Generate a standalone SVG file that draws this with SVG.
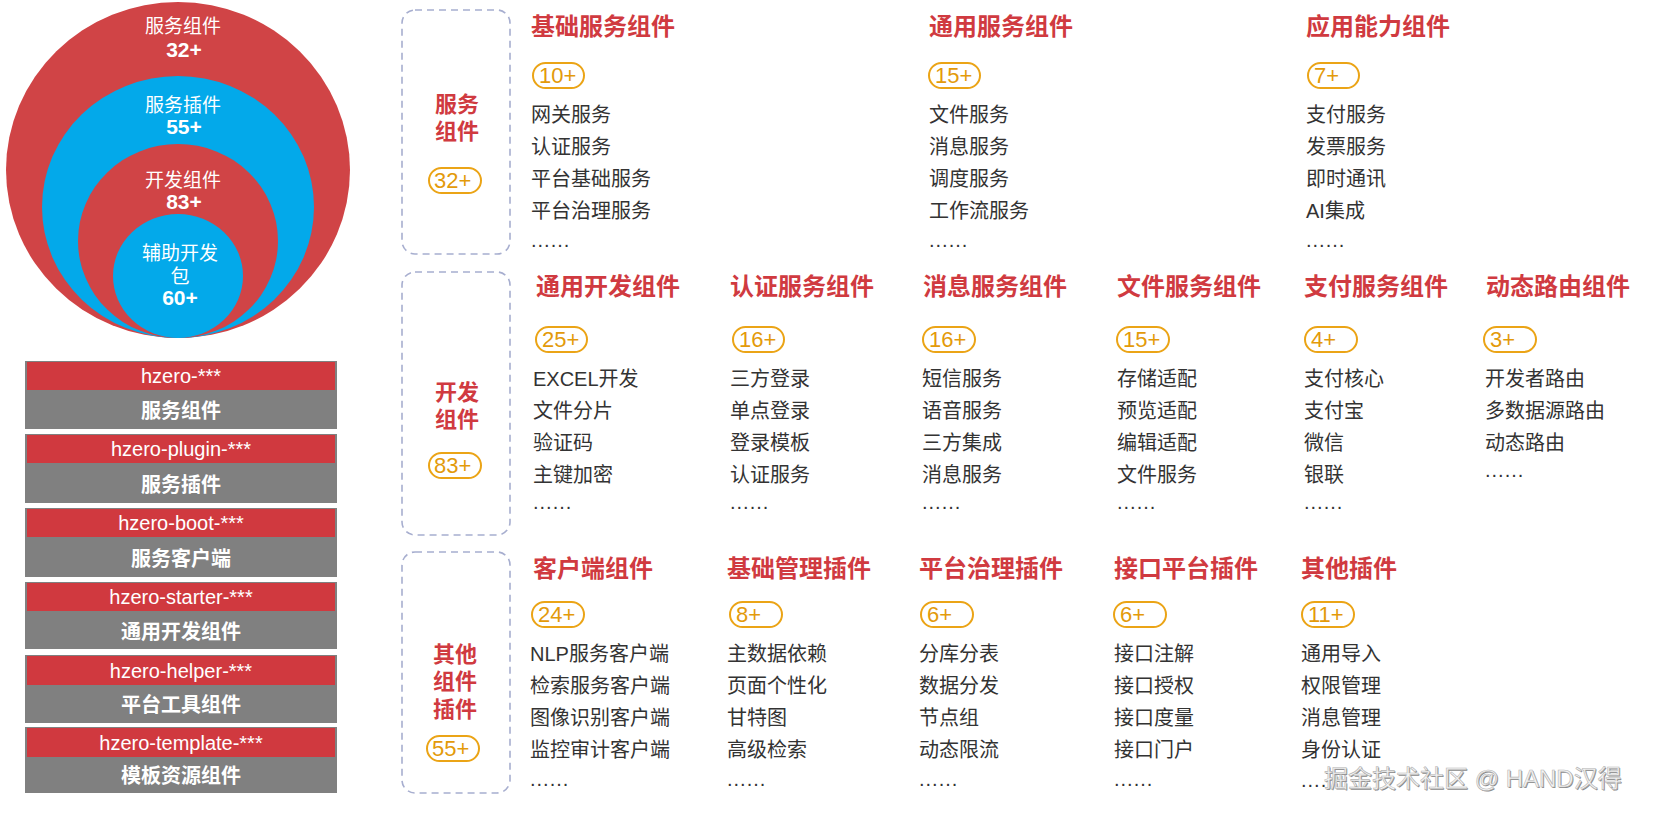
<svg xmlns="http://www.w3.org/2000/svg" width="1654" height="814" viewBox="0 0 1654 814">
<style>
text{font-family:"Liberation Sans","Noto Sans CJK SC",sans-serif}
.t{font-size:24px;font-weight:bold;fill:#D03A40}
.i{font-size:20px;fill:#333}
.d{font-size:20px;fill:#333;letter-spacing:1px}
.b rect{fill:none;stroke:#EBA416;stroke-width:2}
.b text{font-size:22px;fill:#E39A0A}
.f{fill:none;stroke:#A7AECF;stroke-width:1.6;stroke-dasharray:7 5}
.s{font-size:22px;font-weight:bold;fill:#D03A40;text-anchor:middle}
.cw{fill:#fff;text-anchor:middle;font-size:19px}
.cn{fill:#fff;text-anchor:middle;font-size:21px;font-weight:bold}
.bx{fill:#808080}
.br{fill:#D0393F}
.bt{fill:#fff;font-size:20px;text-anchor:middle}
.bg{fill:#fff;font-size:20px;font-weight:bold;text-anchor:middle}
.wm{font-size:24px}
</style>
<rect width="1654" height="814" fill="#fff"/>
<g id="circles">
<ellipse cx="178" cy="170" rx="172" ry="168" fill="#D04446"/>
<ellipse cx="178" cy="207" rx="136" ry="131" fill="#03A9EA"/>
<ellipse cx="178" cy="241" rx="100" ry="97" fill="#D04446"/>
<ellipse cx="178" cy="276" rx="65" ry="62" fill="#03A9EA"/>
<text class="cw" x="183" y="33">服务组件</text>
<text class="cn" x="184" y="57">32+</text>
<text class="cw" x="183" y="112">服务插件</text>
<text class="cn" x="184" y="134">55+</text>
<text class="cw" x="183" y="187">开发组件</text>
<text class="cn" x="184" y="209">83+</text>
<text class="cw" x="180" y="260">辅助开发</text>
<text class="cw" x="180" y="283">包</text>
<text class="cn" x="180" y="305">60+</text>
</g>
<g id="pkg-boxes">
<g id="box-hzero"><rect class="bx" x="25" y="361" width="312" height="68"/><rect class="br" x="27" y="362" width="308" height="28"/><text class="bt" x="181" y="383">hzero-***</text><text class="bg" x="181" y="418">服务组件</text></g>
<g id="box-plugin"><rect class="bx" x="25" y="434" width="312" height="69"/><rect class="br" x="27" y="435" width="308" height="28"/><text class="bt" x="181" y="456">hzero-plugin-***</text><text class="bg" x="181" y="492">服务插件</text></g>
<g id="box-boot"><rect class="bx" x="25" y="508" width="312" height="69"/><rect class="br" x="27" y="509" width="308" height="28"/><text class="bt" x="181" y="530">hzero-boot-***</text><text class="bg" x="181" y="566">服务客户端</text></g>
<g id="box-starter"><rect class="bx" x="25" y="582" width="312" height="67"/><rect class="br" x="27" y="583" width="308" height="28"/><text class="bt" x="181" y="604">hzero-starter-***</text><text class="bg" x="181" y="639">通用开发组件</text></g>
<g id="box-helper"><rect class="bx" x="25" y="655" width="312" height="68"/><rect class="br" x="27" y="656" width="308" height="29"/><text class="bt" x="181" y="678">hzero-helper-***</text><text class="bg" x="181" y="712">平台工具组件</text></g>
<g id="box-template"><rect class="bx" x="25" y="727" width="312" height="66"/><rect class="br" x="27" y="728" width="308" height="29"/><text class="bt" x="181" y="750">hzero-template-***</text><text class="bg" x="181" y="783">模板资源组件</text></g>
</g>
<g id="connectors"/>
<g id="group-service">
<rect class="f" x="402" y="10" width="108" height="244" rx="13"/>
<text class="s" x="457" y="112">服务</text><text class="s" x="457" y="139">组件</text>
<g class="b"><rect x="429" y="168" width="52" height="25" rx="12.5"/><text x="434" y="188">32+</text></g>
</g>
<g id="group-dev">
<rect class="f" x="402" y="272" width="108" height="263" rx="13"/>
<text class="s" x="457" y="400">开发</text><text class="s" x="457" y="427">组件</text>
<g class="b"><rect x="429" y="453" width="52" height="25" rx="12.5"/><text x="434" y="473">83+</text></g>
</g>
<g id="group-other">
<rect class="f" x="402" y="552" width="108" height="241" rx="13"/>
<text class="s" x="455" y="662">其他</text><text class="s" x="455" y="689">组件</text><text class="s" x="455" y="717">插件</text>
<g class="b"><rect x="427" y="736" width="52" height="25" rx="12.5"/><text x="432" y="756">55+</text></g>
</g>

<g id="n-basic-service">
<text class="t" x="531" y="35">基础服务组件</text>
<g class="b"><rect x="533" y="63" width="51" height="25" rx="12.5"/><text x="539" y="83">10+</text></g>
<text class="i" x="531" y="122">网关服务</text><text class="i" x="531" y="154">认证服务</text><text class="i" x="531" y="186">平台基础服务</text><text class="i" x="531" y="218">平台治理服务</text><text class="d" x="531" y="247">......</text>
</g>
<g id="n-common-service">
<text class="t" x="929" y="35">通用服务组件</text>
<g class="b"><rect x="929" y="63" width="51" height="25" rx="12.5"/><text x="935" y="83">15+</text></g>
<text class="i" x="929" y="122">文件服务</text><text class="i" x="929" y="154">消息服务</text><text class="i" x="929" y="186">调度服务</text><text class="i" x="929" y="218">工作流服务</text><text class="d" x="929" y="247">......</text>
</g>
<g id="n-app-ability">
<text class="t" x="1306" y="35">应用能力组件</text>
<g class="b"><rect x="1308" y="63" width="51" height="25" rx="12.5"/><text x="1314" y="83">7+</text></g>
<text class="i" x="1306" y="122">支付服务</text><text class="i" x="1306" y="154">发票服务</text><text class="i" x="1306" y="186">即时通讯</text><text class="i" x="1306" y="218">AI集成</text><text class="d" x="1306" y="247">......</text>
</g>

<g id="n-common-dev">
<text class="t" x="536" y="295">通用开发组件</text>
<g class="b"><rect x="536" y="327" width="51" height="25" rx="12.5"/><text x="542" y="347">25+</text></g>
<text class="i" x="533" y="386">EXCEL开发</text><text class="i" x="533" y="418">文件分片</text><text class="i" x="533" y="450">验证码</text><text class="i" x="533" y="482">主键加密</text><text class="d" x="533" y="509">......</text>
</g>
<g id="n-auth">
<text class="t" x="730" y="295">认证服务组件</text>
<g class="b"><rect x="733" y="327" width="51" height="25" rx="12.5"/><text x="739" y="347">16+</text></g>
<text class="i" x="730" y="386">三方登录</text><text class="i" x="730" y="418">单点登录</text><text class="i" x="730" y="450">登录模板</text><text class="i" x="730" y="482">认证服务</text><text class="d" x="730" y="509">......</text>
</g>
<g id="n-message">
<text class="t" x="923" y="295">消息服务组件</text>
<g class="b"><rect x="923" y="327" width="52" height="25" rx="12.5"/><text x="929" y="347">16+</text></g>
<text class="i" x="922" y="386">短信服务</text><text class="i" x="922" y="418">语音服务</text><text class="i" x="922" y="450">三方集成</text><text class="i" x="922" y="482">消息服务</text><text class="d" x="922" y="509">......</text>
</g>
<g id="n-file">
<text class="t" x="1117" y="295">文件服务组件</text>
<g class="b"><rect x="1117" y="327" width="52" height="25" rx="12.5"/><text x="1123" y="347">15+</text></g>
<text class="i" x="1117" y="386">存储适配</text><text class="i" x="1117" y="418">预览适配</text><text class="i" x="1117" y="450">编辑适配</text><text class="i" x="1117" y="482">文件服务</text><text class="d" x="1117" y="509">......</text>
</g>
<g id="n-pay">
<text class="t" x="1304" y="295">支付服务组件</text>
<g class="b"><rect x="1305" y="327" width="52" height="25" rx="12.5"/><text x="1311" y="347">4+</text></g>
<text class="i" x="1304" y="386">支付核心</text><text class="i" x="1304" y="418">支付宝</text><text class="i" x="1304" y="450">微信</text><text class="i" x="1304" y="482">银联</text><text class="d" x="1304" y="509">......</text>
</g>
<g id="n-route">
<text class="t" x="1486" y="295">动态路由组件</text>
<g class="b"><rect x="1484" y="327" width="52" height="25" rx="12.5"/><text x="1490" y="347">3+</text></g>
<text class="i" x="1485" y="386">开发者路由</text><text class="i" x="1485" y="418">多数据源路由</text><text class="i" x="1485" y="450">动态路由</text><text class="d" x="1485" y="477">......</text>
</g>

<g id="n-client">
<text class="t" x="533" y="577">客户端组件</text>
<g class="b"><rect x="532" y="602" width="52" height="25" rx="12.5"/><text x="538" y="622">24+</text></g>
<text class="i" x="530" y="661">NLP服务客户端</text><text class="i" x="530" y="693">检索服务客户端</text><text class="i" x="530" y="725">图像识别客户端</text><text class="i" x="530" y="757">监控审计客户端</text><text class="d" x="530" y="786">......</text>
</g>
<g id="n-basic-mgmt">
<text class="t" x="727" y="577">基础管理插件</text>
<g class="b"><rect x="730" y="602" width="52" height="25" rx="12.5"/><text x="736" y="622">8+</text></g>
<text class="i" x="727" y="661">主数据依赖</text><text class="i" x="727" y="693">页面个性化</text><text class="i" x="727" y="725">甘特图</text><text class="i" x="727" y="757">高级检索</text><text class="d" x="727" y="786">......</text>
</g>
<g id="n-governance">
<text class="t" x="919" y="577">平台治理插件</text>
<g class="b"><rect x="921" y="602" width="52" height="25" rx="12.5"/><text x="927" y="622">6+</text></g>
<text class="i" x="919" y="661">分库分表</text><text class="i" x="919" y="693">数据分发</text><text class="i" x="919" y="725">节点组</text><text class="i" x="919" y="757">动态限流</text><text class="d" x="919" y="786">......</text>
</g>
<g id="n-interface">
<text class="t" x="1114" y="577">接口平台插件</text>
<g class="b"><rect x="1114" y="602" width="52" height="25" rx="12.5"/><text x="1120" y="622">6+</text></g>
<text class="i" x="1114" y="661">接口注解</text><text class="i" x="1114" y="693">接口授权</text><text class="i" x="1114" y="725">接口度量</text><text class="i" x="1114" y="757">接口门户</text><text class="d" x="1114" y="786">......</text>
</g>
<g id="n-other">
<text class="t" x="1301" y="577">其他插件</text>
<g class="b"><rect x="1302" y="602" width="52" height="25" rx="12.5"/><text x="1308" y="622">11+</text></g>
<text class="i" x="1301" y="661">通用导入</text><text class="i" x="1301" y="693">权限管理</text><text class="i" x="1301" y="725">消息管理</text><text class="i" x="1301" y="757">身份认证</text><text class="d" x="1301" y="787">....</text>
</g>
<g id="watermark">
<text class="wm" x="1325" y="788" fill="#8a8a8a">掘金技术社区 @ HAND汉得</text>
<text class="wm" x="1324" y="787" fill="#f4f4f4" stroke="#b5b5b5" stroke-width="0.6">掘金技术社区 @ HAND汉得</text>
</g>
</svg>
